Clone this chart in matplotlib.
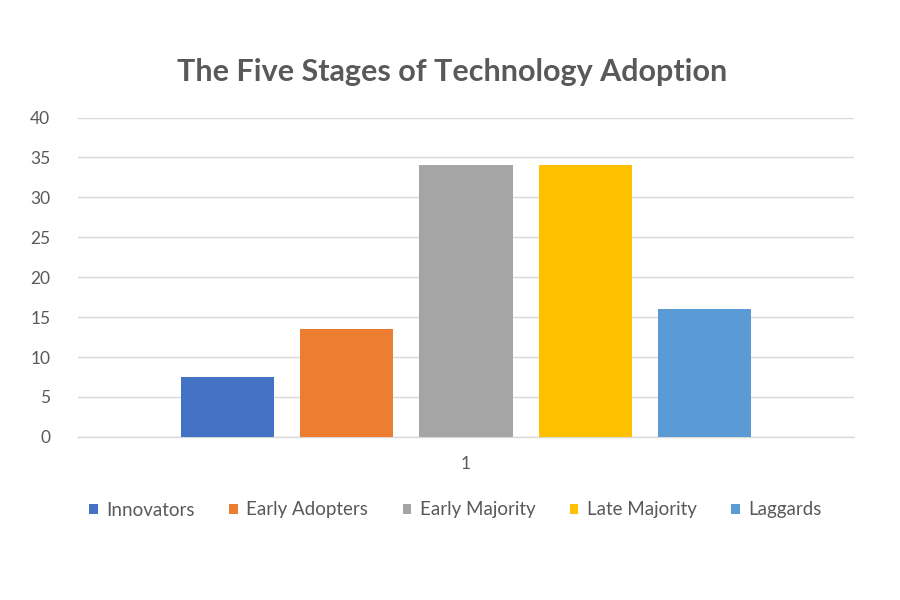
import matplotlib
matplotlib.use("Agg")
import matplotlib.pyplot as plt
from matplotlib.patches import Patch

plt.rcParams['font.family'] = ['Lato', 'DejaVu Sans']

title = "The Five Stages of Technology Adoption"
categories = ["Innovators", "Early Adopters", "Early Majority", "Late Majority", "Laggards"]
values = [7.5, 13.5, 34, 34, 16]
colors = ["#4472C4", "#ED7D31", "#A5A5A5", "#FFC000", "#5B9BD5"]
x_label = "1"
yticks = [0, 5, 10, 15, 20, 25, 30, 35, 40]

text_color = "#595959"
grid_color = "#D9D9D9"

fig = plt.figure(figsize=(9, 6), dpi=100)
ax = fig.add_axes([0.0867, 0.272, 0.8622, 0.532])

positions = list(range(len(values)))
ax.bar(positions, values, width=0.78, color=colors, zorder=3)

ax.set_ylim(0, 40)
ax.set_xlim(-1.25, 5.25)
ax.set_yticks(yticks)
ax.set_yticklabels([str(t) for t in yticks], color=text_color, fontsize=12.5)
ax.set_xticks([2])
ax.set_xticklabels([x_label], color=text_color, fontsize=12.5)
ax.tick_params(axis='both', length=0)
ax.tick_params(axis='y', pad=20)
ax.tick_params(axis='x', pad=14)

ax.yaxis.grid(True, color=grid_color, linewidth=1, zorder=0)
for s in ['top', 'right', 'left']:
    ax.spines[s].set_visible(False)
ax.spines['bottom'].set_color(grid_color)
ax.spines['bottom'].set_linewidth(1)

fig.text(0.502, 0.88, title, ha='center', va='center', fontsize=22,
         fontweight='bold', color=text_color)

handles = [Patch(facecolor=c, edgecolor='none') for c in colors]
leg = fig.legend(handles, categories, loc='center', bbox_to_anchor=(0.506, 0.15),
                 ncol=5, frameon=False, fontsize=13.5, handlelength=0.45,
                 handleheight=0.45, handletextpad=0.45, columnspacing=1.85)
for t in leg.get_texts():
    t.set_color(text_color)

fig.savefig("out.png", dpi=100, facecolor='white')
